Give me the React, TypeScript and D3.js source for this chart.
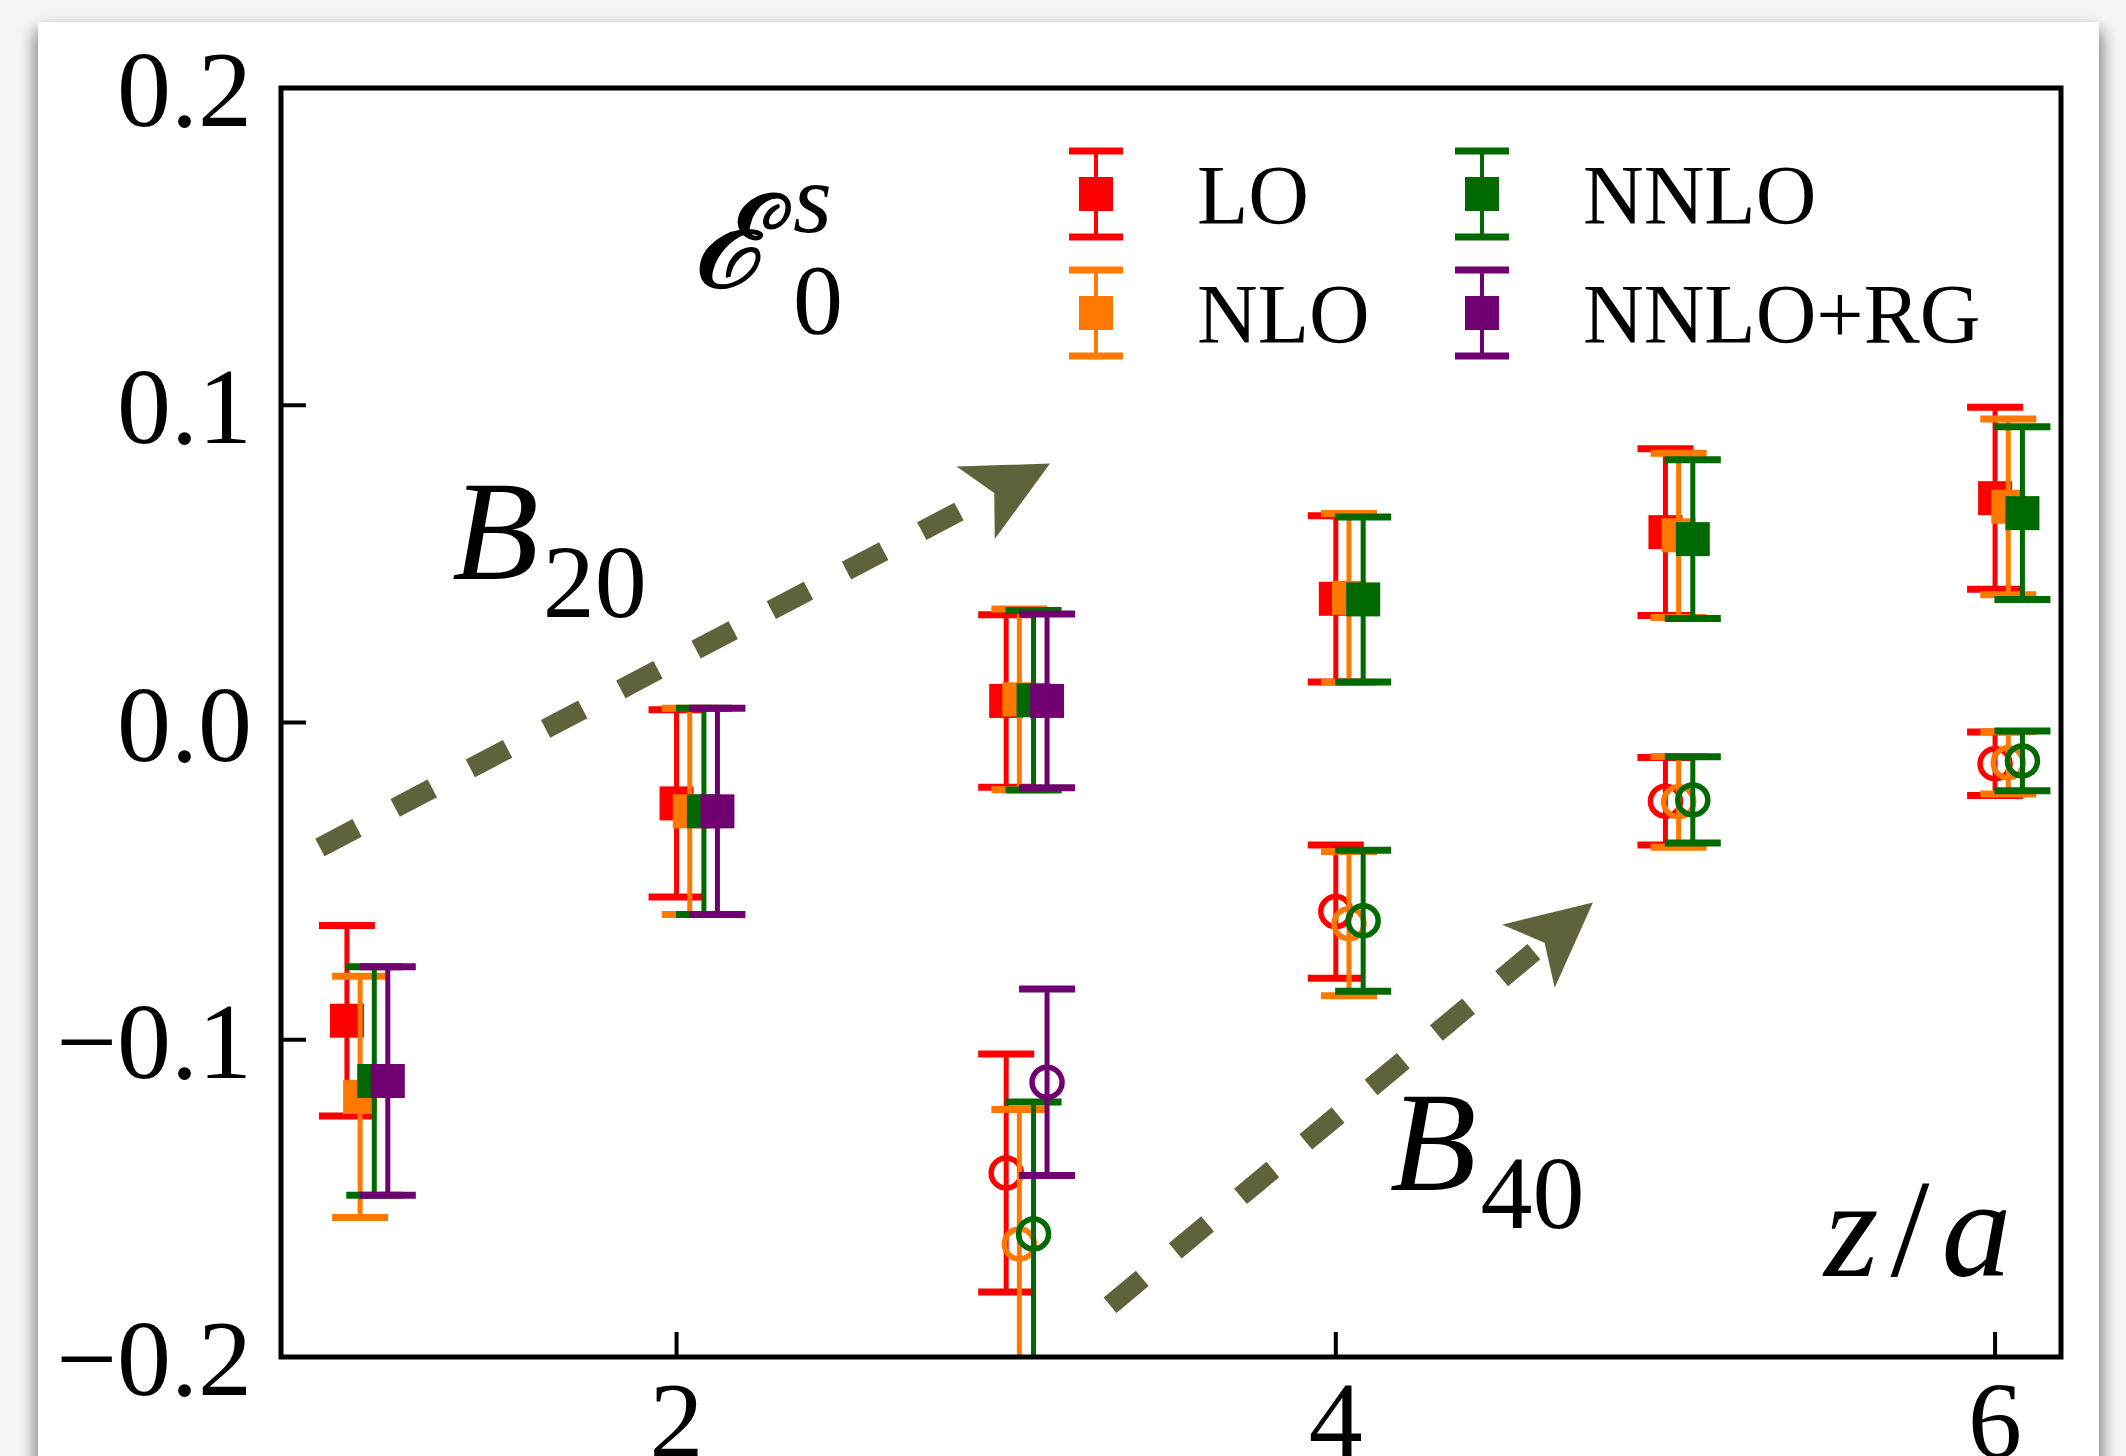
import React, { useEffect, useRef } from "react";
import * as d3 from "d3";

const W = 2126;
const H = 1456;

// series and styles
const seriesNames = ["LO", "NLO", "NNLO", "NNLO+RG"];
const seriesColors = ["#ff0000", "#ff7800", "#006a00", "#700070"];
const xShift = [0, 0.04, 0.083, 0.124];

// B20 (filled squares), z/a = 1..6
const zB20 = [1, 2, 3, 4, 5, 6];
const loB20 = [-0.094, -0.0255, 0.0068, 0.039, 0.06, 0.0707];
const loB20Err = [0.03, 0.0295, 0.0272, 0.0262, 0.0263, 0.0287];
const nloB20 = [-0.118, -0.028, 0.0073, 0.0393, 0.059, 0.068];
const nloB20Err = [0.038, 0.0325, 0.0285, 0.0266, 0.0259, 0.0277];
const nnloB20 = [-0.113, -0.028, 0.007, 0.0388, 0.0578, 0.066];
const nnloB20Err = [0.036, 0.0325, 0.0283, 0.026, 0.025, 0.0272];
const rgB20 = [-0.113, -0.028, 0.0068];
const rgB20Err = [0.036, 0.0325, 0.0274];

// B40 (open circles), z/a = 3..6
const zB40 = [3, 4, 5, 6];
const loB40 = [-0.142, -0.0596, -0.0248, -0.013];
const loB40Err = [0.0375, 0.021, 0.0138, 0.01];
const nloB40 = [-0.1644, -0.0634, -0.025, -0.0127];
const nloB40Err = [0.0424, 0.0227, 0.0143, 0.0098];
const nnloB40 = [-0.1612, -0.0625, -0.0244, -0.0121];
const nnloB40Err = [0.0416, 0.0222, 0.0136, 0.0094];
const rgB40 = [-0.1134];
const rgB40Err = [0.0294];

const yTicks = [-0.2, -0.1, 0.0, 0.1, 0.2];
const xTicks = [2, 4, 6];

// annotation arrows in data coords: [x0, y0, x1, y1]
const arrowB20 = [0.918, -0.0394, 3.133, 0.0816];
const arrowB40 = [3.315, -0.1837, 4.78, -0.0567];

const serif = "'Liberation Serif', 'Times New Roman', serif";

const App = () => {
  const svgRef = useRef(null);

  useEffect(() => {
    const svg = d3.select(svgRef.current);
    svg.selectAll("*").remove();

    const margin = { left: 281, right: 2061, top: 88, bottom: 1357 };
    const x = d3.scaleLinear().domain([0.8, 6.2]).range([margin.left, margin.right]);
    const y = d3.scaleLinear().domain([-0.2, 0.2]).range([margin.bottom, margin.top]);

    // page background + card shadow
    const defs = svg.append("defs");
    const blur = defs.append("filter").attr("id", "shadow").attr("x", "-5%").attr("y", "-5%").attr("width", "110%").attr("height", "110%");
    blur.append("feGaussianBlur").attr("stdDeviation", 9);
    defs.append("clipPath").attr("id", "plotclip")
      .append("rect")
      .attr("x", margin.left).attr("y", margin.top)
      .attr("width", margin.right - margin.left).attr("height", margin.bottom - margin.top);

    svg.append("rect").attr("width", W).attr("height", H).attr("fill", "#f6f6f6");
    svg.append("rect")
      .attr("x", 36).attr("y", 30).attr("width", 2065).attr("height", 1520)
      .attr("fill", "#000").attr("opacity", 0.55).attr("filter", "url(#shadow)");
    svg.append("rect").attr("x", 38).attr("y", 22).attr("width", 2061).attr("height", 1500).attr("fill", "#fff");

    // ticks (inward, left and bottom only)
    const axes = svg.append("g").attr("stroke", "#000").attr("stroke-width", 4);
    axes.selectAll(".yt").data(yTicks).enter().append("line")
      .attr("x1", margin.left).attr("x2", margin.left + 25)
      .attr("y1", (d) => y(d)).attr("y2", (d) => y(d));
    axes.selectAll(".xt").data(xTicks).enter().append("line")
      .attr("x1", (d) => x(d)).attr("x2", (d) => x(d))
      .attr("y1", margin.bottom).attr("y2", margin.bottom - 25);

    // tick labels
    svg.append("g").selectAll("text").data(yTicks).enter().append("text")
      .attr("x", 252).attr("y", (d) => y(d) + 38)
      .attr("text-anchor", "end").attr("font-family", serif).attr("font-size", 108)
      .text((d) => (d < 0 ? "\u2212" : "") + Math.abs(d).toFixed(1));
    svg.append("g").selectAll("text").data(xTicks).enter().append("text")
      .attr("x", (d) => x(d)).attr("y", 1457)
      .attr("text-anchor", "middle").attr("font-family", serif).attr("font-size", 108)
      .text((d) => d);

    // arrows
    const arrowColor = "#5f623a";
    const drawArrow = (a) => {
      const [x0, y0, x1, y1] = [x(a[0]), y(a[1]), x(a[2]), y(a[3])];
      const len = Math.hypot(x1 - x0, y1 - y0);
      const ux = (x1 - x0) / len, uy = (y1 - y0) / len;
      const nx = -uy, ny = ux;
      const notch = [x1 - 63 * ux, y1 - 63 * uy];
      svg.append("line")
        .attr("x1", x0).attr("y1", y0).attr("x2", notch[0]).attr("y2", notch[1])
        .attr("stroke", arrowColor).attr("stroke-width", 20)
        .attr("stroke-dasharray", "42 43");
      const head = [
        [x1, y1],
        [x1 - 84 * ux + 41 * nx, y1 - 84 * uy + 41 * ny],
        notch,
        [x1 - 84 * ux - 41 * nx, y1 - 84 * uy - 41 * ny],
      ];
      svg.append("path").attr("d", d3.line()(head) + "Z").attr("fill", arrowColor);
    };
    drawArrow(arrowB20);
    drawArrow(arrowB40);

    // error bars + markers
    const plot = svg.append("g").attr("clip-path", "url(#plotclip)");
    const drawSeries = (zs, vals, errs, i, filled) => {
      const col = seriesColors[i];
      const pts = zs.map((z, k) => ({ z: z + xShift[i], v: vals[k], e: errs[k] }));
      const g = plot.append("g");
      g.selectAll(".bar").data(pts).enter().append("line")
        .attr("x1", (d) => x(d.z)).attr("x2", (d) => x(d.z))
        .attr("y1", (d) => y(d.v - d.e)).attr("y2", (d) => y(d.v + d.e))
        .attr("stroke", col).attr("stroke-width", 5);
      ["lo", "hi"].forEach((side) => {
        g.selectAll(".cap" + side).data(pts).enter().append("line")
          .attr("x1", (d) => x(d.z) - 28).attr("x2", (d) => x(d.z) + 28)
          .attr("y1", (d) => y(side === "lo" ? d.v - d.e : d.v + d.e))
          .attr("y2", (d) => y(side === "lo" ? d.v - d.e : d.v + d.e))
          .attr("stroke", col).attr("stroke-width", 7);
      });
      if (filled) {
        g.selectAll(".mk").data(pts).enter().append("rect")
          .attr("x", (d) => x(d.z) - 17).attr("y", (d) => y(d.v) - 17)
          .attr("width", 34).attr("height", 34).attr("fill", col);
      } else {
        g.selectAll(".mk").data(pts).enter().append("circle")
          .attr("cx", (d) => x(d.z)).attr("cy", (d) => y(d.v)).attr("r", 15)
          .attr("fill", "none").attr("stroke", col).attr("stroke-width", 5.5);
      }
    };
    drawSeries(zB20, loB20, loB20Err, 0, true);
    drawSeries(zB20, nloB20, nloB20Err, 1, true);
    drawSeries(zB20, nnloB20, nnloB20Err, 2, true);
    drawSeries(zB20.slice(0, rgB20.length), rgB20, rgB20Err, 3, true);
    drawSeries(zB40, loB40, loB40Err, 0, false);
    drawSeries(zB40, nloB40, nloB40Err, 1, false);
    drawSeries(zB40, nnloB40, nnloB40Err, 2, false);
    drawSeries(zB40.slice(0, rgB40.length), rgB40, rgB40Err, 3, false);

    // frame
    svg.append("rect")
      .attr("x", margin.left).attr("y", margin.top)
      .attr("width", margin.right - margin.left).attr("height", margin.bottom - margin.top)
      .attr("fill", "none").attr("stroke", "#000").attr("stroke-width", 5);

    // legend (2 columns)
    const legPos = [[1096, 194], [1096, 313], [1482, 194], [1482, 313]];
    seriesNames.forEach((name, i) => {
      const [lx, ly] = legPos[i];
      const g = svg.append("g");
      const col = seriesColors[i];
      g.append("line").attr("x1", lx).attr("x2", lx).attr("y1", ly - 43).attr("y2", ly + 43)
        .attr("stroke", col).attr("stroke-width", 4);
      [-43, 43].forEach((dy) => {
        g.append("line").attr("x1", lx - 27).attr("x2", lx + 27).attr("y1", ly + dy).attr("y2", ly + dy)
          .attr("stroke", col).attr("stroke-width", 7);
      });
      g.append("rect").attr("x", lx - 17).attr("y", ly - 17).attr("width", 34).attr("height", 34).attr("fill", col);
      g.append("text").attr("x", lx + 101).attr("y", ly + 30)
        .attr("font-family", serif).attr("font-size", 84).text(name);
    });

    // E_0^s label
    const lab = svg.append("g").attr("font-family", serif);
    lab.append("text").attr("x", 692).attr("y", 287)
      .attr("font-family", "'DejaVu Serif', serif").attr("font-style", "italic").attr("font-size", 128)
      .attr("stroke", "#000").attr("stroke-width", 2.5)
      .text("\u2130");
    lab.append("text").attr("x", 793).attr("y", 232).attr("font-style", "italic").attr("font-size", 100).text("s");
    lab.append("text").attr("x", 793).attr("y", 333).attr("font-size", 100).text("0");

    // B20 / B40 labels
    const subLabel = (lx, ly, main, sub) => {
      const t = svg.append("text").attr("x", x(lx)).attr("y", y(ly)).attr("font-family", serif);
      t.append("tspan").attr("font-style", "italic").attr("font-size", 142).text(main);
      t.append("tspan").attr("font-size", 104).attr("dx", 4).attr("dy", 38).text(sub);
    };
    subLabel(1.319, 0.0451, "B", "20");
    subLabel(4.164, -0.1475, "B", "40");

    // axis label z/a
    const za = svg.append("text").attr("x", 1824).attr("y", 1276).attr("font-family", serif).attr("font-size", 140);
    za.append("tspan").attr("font-style", "italic").text("z");
    za.append("tspan").attr("dx", 12).text("/");
    za.append("tspan").attr("dx", 12).attr("font-style", "italic").text("a");
  }, []);

  return (
    <svg
      ref={svgRef}
      width={W}
      height={H}
      style={{ position: "absolute", left: 0, top: 0, display: "block" }}
    ></svg>
  );
};

export default App;
